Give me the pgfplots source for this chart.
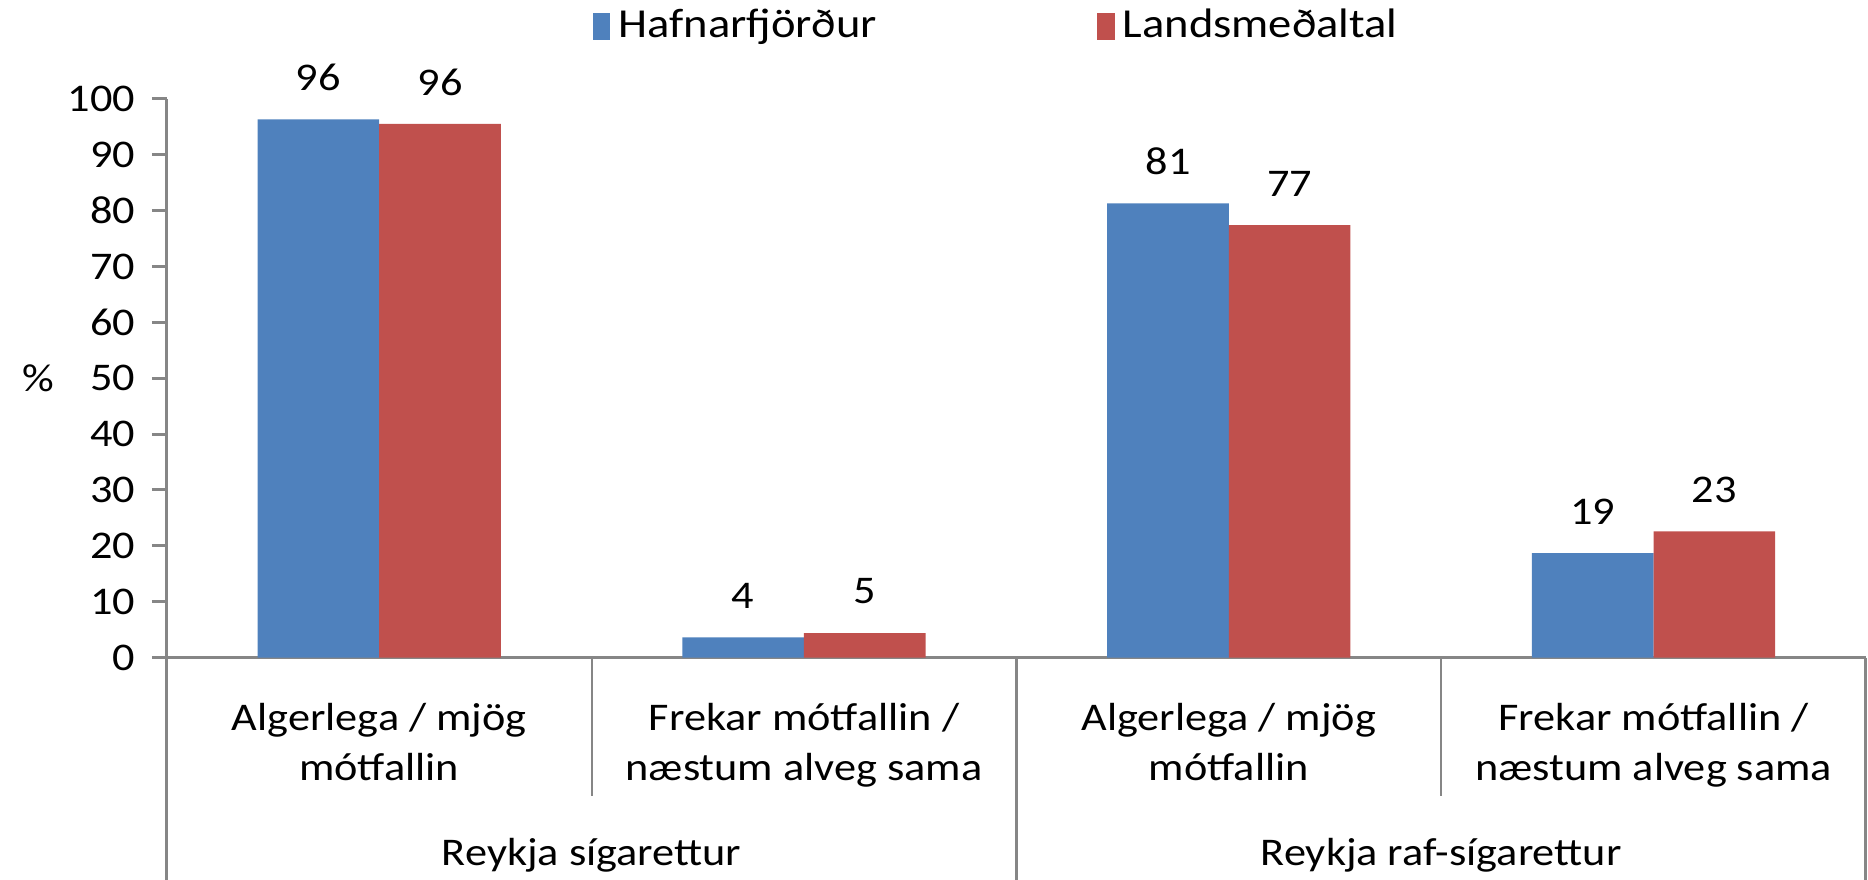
\documentclass[border=0pt]{standalone}
\usepackage{pgfplots}
\pgfplotsset{compat=1.18}
\usepackage{fontspec}
\setmainfont{Carlito}[FakeStretch=1.13]
\definecolor{xblue}{HTML}{4F81BD}
\definecolor{xred}{HTML}{C0504D}
\definecolor{xgray}{HTML}{868686}
\begin{document}
\fontsize{9.8pt}{12.5pt}\selectfont
\begin{tikzpicture}
\begin{axis}[
 scale only axis, width=424.8pt, height=139.7pt,
 ymin=0, ymax=100, xmin=-0.5, xmax=3.5,
 ytick={0,10,...,100},
 xtick={0,1,2,3},
 xticklabels={{Algerlega / mjög\\mótfallin},{Frekar mótfallin /\\næstum alveg sama},{Algerlega / mjög\\mótfallin},{Frekar mótfallin /\\næstum alveg sama}},
 xticklabel style={align=center, yshift=-4.2pt},
 yticklabel style={xshift=-0.8pt},
 ybar=0pt, bar width=30.4pt,
 axis x line*=bottom, axis y line*=left,
 axis line style={-, xgray, line width=0.75pt},
 tick style={xgray, line width=0.75pt},
 major tick length=3.7pt, tick align=outside,
 xtick style={draw=none},
 clip=false,
 /pgf/number format/assume math mode=true,
 point meta=explicit symbolic,
 nodes near coords,
 every node near coord/.append style={anchor=center, yshift=10.4pt, text=black},
 legend columns=2,
 legend style={draw=none, fill=none, font=\fontsize{10.3pt}{12.5pt}\selectfont, at={(axis description cs:0.2502,1.1296)}, anchor=west, inner sep=0pt, nodes={inner sep=1.5pt}, /tikz/every even column/.append style={column sep=53.5pt}},
 legend image code/.code={\draw[#1,draw=none] (0pt,-3.4pt) rectangle (4.4pt,3.4pt); \path (4.9pt,0pt);},
]
\addplot[fill=xblue, draw=none] coordinates {(0,96.3) [96] (1,3.6) [4] (2,81.3) [81] (3,18.7) [19]};
\addplot[fill=xred, draw=none] coordinates {(0,95.5) [96] (1,4.4) [5] (2,77.4) [77] (3,22.6) [23]};
\legend{Hafnarfjörður, Landsmeðaltal}
\draw[xgray, line width=0.75pt] (axis cs:-0.5,0) -- ++(0pt,-55.6pt);
\draw[xgray, line width=0.75pt] (axis cs:1.5,0) -- ++(0pt,-55.6pt);
\draw[xgray, line width=0.75pt] (axis cs:3.5,0) -- ++(0pt,-55.6pt);
\draw[xgray, line width=0.5pt] (axis cs:0.5,0) -- ++(0pt,-34.6pt);
\draw[xgray, line width=0.5pt] (axis cs:2.5,0) -- ++(0pt,-34.6pt);
\node[anchor=center] at (axis cs:0.5,0) [yshift=-49.4pt] {Reykja sígarettur};
\node[anchor=center] at (axis cs:2.5,0) [yshift=-49.4pt] {Reykja raf-sígarettur};
\node[anchor=center] at (axis cs:-0.5,50) [xshift=-32pt] {\%};
\end{axis}
\pgfresetboundingbox
\path[use as bounding box] (-41.7pt,-55.6pt) rectangle (425.3pt,164.4pt);
\end{tikzpicture}
\end{document}
